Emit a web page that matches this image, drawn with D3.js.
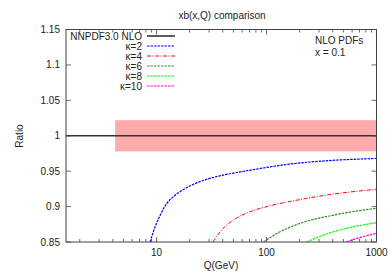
<!DOCTYPE html>
<html>
<head>
<meta charset="utf-8">
<script src="https://cdn.jsdelivr.net/npm/d3@7"></script>
<style>
  body { margin: 0; background: #fff; }
  text { font-family: "Liberation Sans", Arial, sans-serif; fill: #222; }
</style>
</head>
<body>
<script>
// ---- data ----
var yTicks = [0.85, 0.9, 0.95, 1, 1.05, 1.1, 1.15];
var xTickLabels = [10, 100, 1000];
var bandQ = [4.2, 1000];
var bandRange = [0.978, 1.022];

var kappa2 = [[8.73,0.85],[9.7,0.8716],[10.8,0.888],[12.4,0.9046],[14.2,0.914],[17.5,0.924],[21.6,0.9314],
              [28.6,0.9385],[40.6,0.9445],[57.7,0.949],[81.8,0.953],[162,0.960],[325,0.9643],[1000,0.968]];
var kappa4 = [[32.5,0.85],[37.8,0.8645],[50,0.881],[71,0.8928],[101,0.900],[203,0.910],[408,0.9177],[1000,0.9244]];
var kappa6 = [[94,0.85],[124,0.862],[203,0.8764],[408,0.888],[1000,0.8976]];
var kappa8 = [[230,0.85],[408,0.8645],[621,0.8716],[1000,0.8772]];
var kappa10 = [[532,0.85],[714,0.8566],[1000,0.862]];

var series = [
  {name: "NNPDF3.0 NLO", pts: [[1.5,1],[1000,1]], color: "#333333", dash: null, w: 1.6},
  {name: "κ=2", pts: kappa2, color: "#0000ff", dash: "2.5,1", w: 1.2},
  {name: "κ=4", pts: kappa4, color: "#ff0000", dash: "4,1.5,1,1.5", w: 1.0},
  {name: "κ=6", pts: kappa6, color: "#2e8b2e", dash: "2.5,1", w: 1.2},
  {name: "κ=8", pts: kappa8, color: "#00ff00", dash: "2.5,1", w: 1.2},
  {name: "κ=10", pts: kappa10, color: "#ff00ff", dash: "2.5,1", w: 1.2}
];

var W = 392, H = 274;
var margin = {top: 29.5, right: 15.5, bottom: 32, left: 66};
var iw = W - margin.left - margin.right;
var ih = H - margin.top - margin.bottom;

var svg = d3.select("body").append("svg").attr("width", W).attr("height", H);
var g = svg.append("g").attr("transform", `translate(${margin.left},${margin.top})`);

var x = d3.scaleLog().domain([1.5, 1000]).range([0, iw]);
var y = d3.scaleLinear().domain([0.85, 1.15]).range([ih, 0]);

g.append("clipPath").attr("id", "clip").append("rect").attr("width", iw).attr("height", ih);
var plot = g.append("g").attr("clip-path", "url(#clip)");

// uncertainty band
plot.append("rect")
  .attr("x", x(bandQ[0])).attr("width", x(bandQ[1]) - x(bandQ[0]))
  .attr("y", y(bandRange[1])).attr("height", y(bandRange[0]) - y(bandRange[1]))
  .attr("fill", "#ffabab");

var line = d3.line().x(d => x(d[0])).y(d => y(d[1])).curve(d3.curveMonotoneX);
series.forEach(s => {
  plot.append("path").attr("d", line(s.pts))
    .attr("fill", "none").attr("stroke", s.color).attr("stroke-width", s.w)
    .attr("stroke-dasharray", s.dash);
});

// axes: ticks inward on all sides
var minor = [];
for (var dec = 1; dec <= 100; dec *= 10)
  for (var m = 1; m < 10; m++) { var v = dec * m; if (v >= 1.5 && v <= 1000) minor.push(v); }
var major = minor.filter(v => xTickLabels.includes(v));

var axG = g.append("g").attr("stroke", "#444").attr("stroke-width", 0.8);
minor.forEach(v => {
  var len = major.includes(v) ? 5 : 3;
  axG.append("line").attr("x1", x(v)).attr("x2", x(v)).attr("y1", ih).attr("y2", ih - len);
  axG.append("line").attr("x1", x(v)).attr("x2", x(v)).attr("y1", 0).attr("y2", len);
});
yTicks.forEach(v => {
  axG.append("line").attr("x1", 0).attr("x2", 5).attr("y1", y(v)).attr("y2", y(v));
  axG.append("line").attr("x1", iw).attr("x2", iw - 5).attr("y1", y(v)).attr("y2", y(v));
});
axG.append("rect").attr("width", iw).attr("height", ih).attr("fill", "none").attr("stroke-width", 1);

g.selectAll(".yl").data(yTicks).enter().append("text")
  .attr("x", -6).attr("y", d => y(d) + 3.5).attr("text-anchor", "end")
  .attr("font-size", 10).text(d => d);
g.selectAll(".xl").data(xTickLabels).enter().append("text")
  .attr("x", d => x(d)).attr("y", ih + 14).attr("text-anchor", "middle")
  .attr("font-size", 10).text(d => d);

svg.append("text").attr("x", 222).attr("y", 19).attr("text-anchor", "middle")
  .attr("font-size", 10).text("xb(x,Q) comparison");
svg.append("text").attr("x", 221).attr("y", 269).attr("text-anchor", "middle")
  .attr("font-size", 10).text("Q(GeV)");
svg.append("text").attr("transform", "translate(23,136) rotate(-90)").attr("text-anchor", "middle")
  .attr("font-size", 10).text("Ratio");
svg.append("text").attr("x", 315).attr("y", 44).attr("font-size", 10).text("NLO PDFs");
svg.append("text").attr("x", 315).attr("y", 56).attr("font-size", 10).text("x = 0.1");

// legend
var leg = svg.append("g");
series.forEach((s, i) => {
  var yy = 36 + i * 10;
  leg.append("text").attr("x", 142).attr("y", yy + 3.5).attr("text-anchor", "end")
    .attr("font-size", 10).text(s.name);
  leg.append("line").attr("x1", 147).attr("x2", 175).attr("y1", yy).attr("y2", yy)
    .attr("stroke", s.color).attr("stroke-width", s.w).attr("stroke-dasharray", s.dash);
});
</script>
</body>
</html>
